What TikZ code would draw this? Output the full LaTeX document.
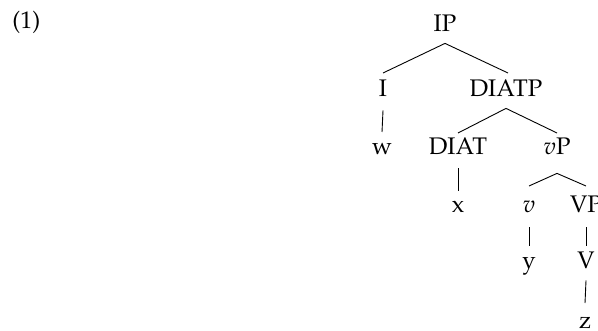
\documentclass[tikz,border=0pt]{standalone}
\usepackage[T1]{fontenc}
\usepackage{mathpazo}
\begin{document}
\begin{tikzpicture}[x=0.5pt,y=-0.5pt,
  every node/.style={font=\fontsize{12pt}{14pt}\selectfont, inner sep=0pt, anchor=base, text height=8.3pt, text depth=0pt},
  branch/.style={line width=0.45pt}]
\useasboundingbox (0,0) rectangle (598,331);
\node[anchor=base west] (ex) at (12,29) {(1)};
\node (ip) at (445,32) {IP};
\node (i) at (383,97) {I};
\node (diatp) at (506,97) {DIATP};
\node (w) at (382,155) {w};
\node (diat) at (458,155) {DIAT};
\node (vp) at (557,155) {$v$P};
\node (x) at (458,213) {x};
\node (v) at (529,213) {$v$};
\node (vpp) at (586,213) {VP};
\node (y) at (529,268) {y};
\node (V) at (586,268) {V};
\node (z) at (585,328) {z};
\draw[branch] ([yshift=-5.5pt]ip.south) -- ([yshift=3.5pt]i.north);
\draw[branch] ([yshift=-5.5pt]ip.south) -- ([xshift=1pt,yshift=3.5pt]diatp.north);
\draw[branch] ([yshift=-5.5pt]diatp.south) -- ([yshift=2.5pt]diat.north);
\draw[branch] ([yshift=-5.5pt]diatp.south) -- ([yshift=2.5pt]vp.north);
\draw[branch] ([yshift=-6.5pt]i.south) -- ([yshift=3pt]w.north);
\draw[branch] ([yshift=-6.5pt]diat.south) -- ([yshift=2.5pt]x.north);
\draw[branch] ([yshift=-9pt]vp.south) -- ([yshift=5pt]v.north);
\draw[branch] ([yshift=-9pt]vp.south) -- ([yshift=5pt]vpp.north);
\draw[branch] ([yshift=-7pt]v.south) -- ([yshift=2.5pt]y.north);
\draw[branch] ([yshift=-7pt]vpp.south) -- ([yshift=2.5pt]V.north);
\draw[branch] ([yshift=-6pt]V.south) -- ([yshift=4pt]z.north);
\end{tikzpicture}
\end{document}
